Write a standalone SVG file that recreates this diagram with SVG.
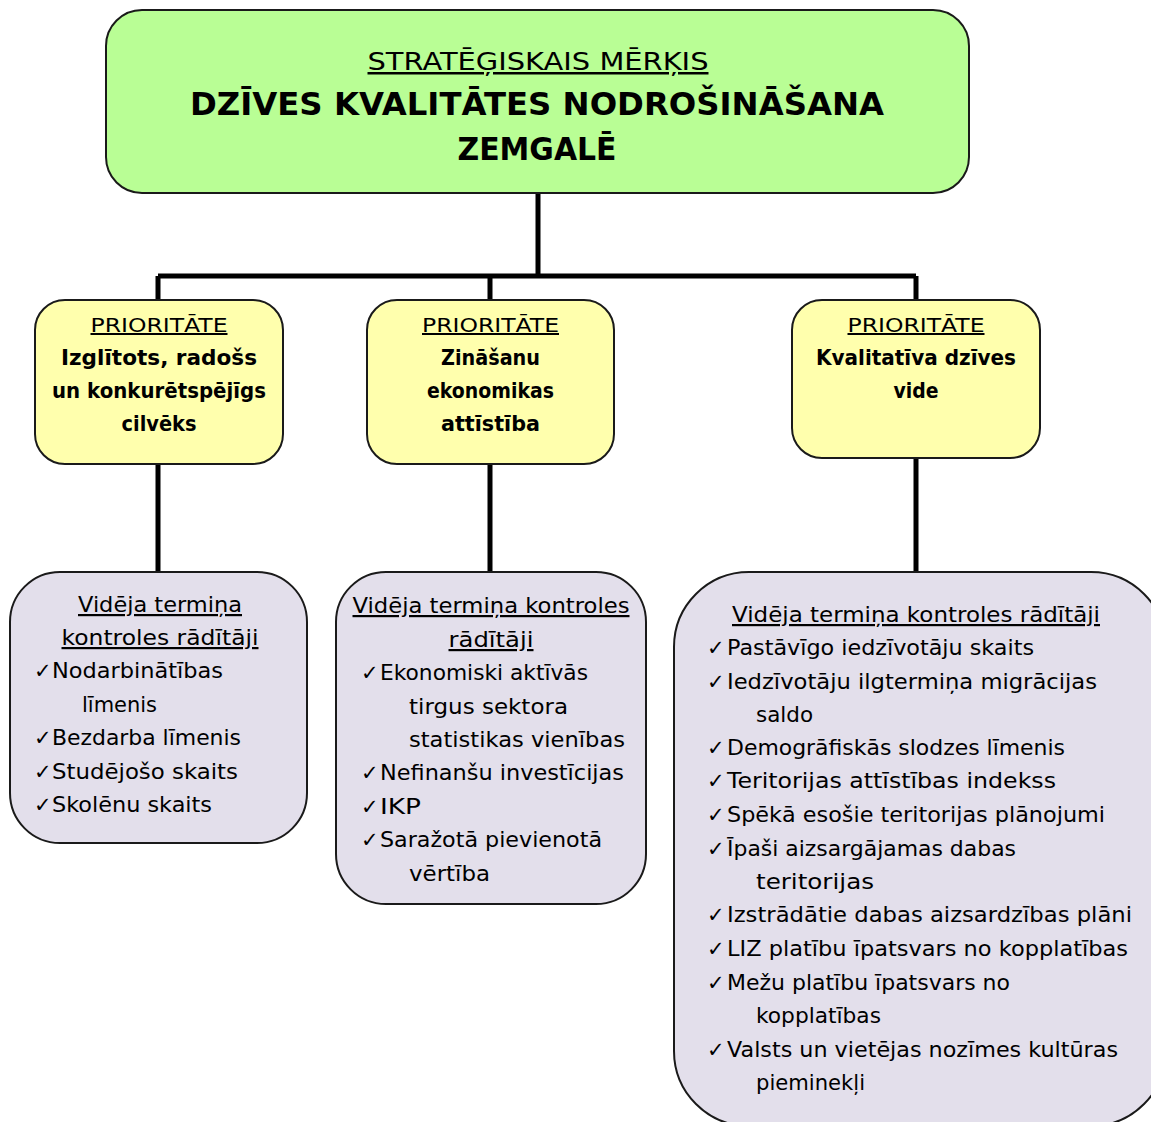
<svg xmlns="http://www.w3.org/2000/svg" width="1151" height="1122" viewBox="0 0 1151 1122">
<style>
text{font-family:"DejaVu Sans","Liberation Sans",sans-serif;fill:#000;}
.box{stroke:#1a1a1a;stroke-width:2;}
.goal{fill:#b9fe95;}
.prio{fill:#ffffad;}
.ind{fill:#e3dfeb;}
.conn{stroke:#000;stroke-width:5;fill:none;}
.c{text-anchor:middle;}
.u{text-decoration:underline;}
.t1{font-size:25px;}
.t2{font-size:32px;font-weight:bold;}
.p1{font-size:20px;}
.p2{font-size:22px;font-weight:bold;}
.i{font-size:22px;}
.ck{font-size:21px;}
</style>
<g id="connectors">
<path class="conn" d="M538 193V276M158 276H916M158 276V300M490 276V300M916 276V300M158 464V572M490 464V572M916 458V572"/>
</g>
<g id="goal">
<rect class="box goal" x="106" y="10" width="863" height="183" rx="36"/>
<text class="c t1 u" x="538" y="70" textLength="341" lengthAdjust="spacingAndGlyphs">STRATĒĢISKAIS MĒRĶIS</text>
<text class="c t2" x="537" y="115" textLength="694" lengthAdjust="spacingAndGlyphs">DZĪVES KVALITĀTES NODROŠINĀŠANA</text>
<text class="c t2" x="537" y="160" textLength="159" lengthAdjust="spacingAndGlyphs">ZEMGALĒ</text>
</g>
<g id="prio1">
<rect class="box prio" x="35" y="300" width="248" height="164" rx="30"/>
<text class="c p1 u" x="159" y="332" textLength="137" lengthAdjust="spacingAndGlyphs">PRIORITĀTE</text>
<text class="c p2" x="159" y="365" textLength="196" lengthAdjust="spacingAndGlyphs">Izglītots, radošs</text>
<text class="c p2" x="159" y="398" textLength="214" lengthAdjust="spacingAndGlyphs">un konkurētspējīgs</text>
<text class="c p2" x="159" y="431" textLength="75" lengthAdjust="spacingAndGlyphs">cilvēks</text>
</g>
<g id="prio2">
<rect class="box prio" x="367" y="300" width="247" height="164" rx="30"/>
<text class="c p1 u" x="490.5" y="332" textLength="137" lengthAdjust="spacingAndGlyphs">PRIORITĀTE</text>
<text class="c p2" x="490.5" y="365" textLength="99" lengthAdjust="spacingAndGlyphs">Zināšanu</text>
<text class="c p2" x="490.5" y="398" textLength="127" lengthAdjust="spacingAndGlyphs">ekonomikas</text>
<text class="c p2" x="490.5" y="431" textLength="99" lengthAdjust="spacingAndGlyphs">attīstība</text>
</g>
<g id="prio3">
<rect class="box prio" x="792" y="300" width="248" height="158" rx="30"/>
<text class="c p1 u" x="916" y="332" textLength="137" lengthAdjust="spacingAndGlyphs">PRIORITĀTE</text>
<text class="c p2" x="916" y="365" textLength="200" lengthAdjust="spacingAndGlyphs">Kvalitatīva dzīves</text>
<text class="c p2" x="916" y="398" textLength="45" lengthAdjust="spacingAndGlyphs">vide</text>
</g>
<g id="ind1">
<rect class="box ind" x="10" y="572" width="297" height="271" rx="50"/>
<text class="c i u" x="160" y="612" textLength="164" lengthAdjust="spacingAndGlyphs">Vidēja termiņa</text>
<text class="c i u" x="160" y="645" textLength="197" lengthAdjust="spacingAndGlyphs">kontroles rādītāji</text>
<text class="ck" x="34" y="678">✓</text><text class="i" x="52" y="678" textLength="171" lengthAdjust="spacingAndGlyphs">Nodarbinātības</text>
<text class="i" x="82" y="712" textLength="75" lengthAdjust="spacingAndGlyphs">līmenis</text>
<text class="ck" x="34" y="745">✓</text><text class="i" x="52" y="745" textLength="189" lengthAdjust="spacingAndGlyphs">Bezdarba līmenis</text>
<text class="ck" x="34" y="779">✓</text><text class="i" x="52" y="779" textLength="186" lengthAdjust="spacingAndGlyphs">Studējošo skaits</text>
<text class="ck" x="34" y="812">✓</text><text class="i" x="52" y="812" textLength="160" lengthAdjust="spacingAndGlyphs">Skolēnu skaits</text>
</g>
<g id="ind2">
<rect class="box ind" x="336" y="572" width="310" height="332" rx="50"/>
<text class="c i u" x="491" y="613" textLength="277" lengthAdjust="spacingAndGlyphs">Vidēja termiņa kontroles</text>
<text class="c i u" x="491" y="647" textLength="85" lengthAdjust="spacingAndGlyphs">rādītāji</text>
<text class="ck" x="361" y="680">✓</text><text class="i" x="380" y="680" textLength="208" lengthAdjust="spacingAndGlyphs">Ekonomiski aktīvās</text>
<text class="i" x="409" y="714" textLength="159" lengthAdjust="spacingAndGlyphs">tirgus sektora</text>
<text class="i" x="409" y="747" textLength="216" lengthAdjust="spacingAndGlyphs">statistikas vienības</text>
<text class="ck" x="361" y="780">✓</text><text class="i" x="380" y="780" textLength="244" lengthAdjust="spacingAndGlyphs">Nefinanšu investīcijas</text>
<text class="ck" x="361" y="814">✓</text><text class="i" x="380" y="814" textLength="41" lengthAdjust="spacingAndGlyphs">IKP</text>
<text class="ck" x="361" y="847">✓</text><text class="i" x="380" y="847" textLength="222" lengthAdjust="spacingAndGlyphs">Saražotā pievienotā</text>
<text class="i" x="409" y="881" textLength="81" lengthAdjust="spacingAndGlyphs">vērtība</text>
</g>
<g id="ind3">
<rect class="box ind" x="674" y="572" width="492" height="554" rx="75"/>
<text class="c i u" x="916" y="622" textLength="368" lengthAdjust="spacingAndGlyphs">Vidēja termiņa kontroles rādītāji</text>
<text class="ck" x="707" y="655">✓</text><text class="i" x="727" y="655" textLength="307" lengthAdjust="spacingAndGlyphs">Pastāvīgo iedzīvotāju skaits</text>
<text class="ck" x="707" y="689">✓</text><text class="i" x="727" y="689" textLength="370" lengthAdjust="spacingAndGlyphs">Iedzīvotāju ilgtermiņa migrācijas</text>
<text class="i" x="756" y="722" textLength="57" lengthAdjust="spacingAndGlyphs">saldo</text>
<text class="ck" x="707" y="755">✓</text><text class="i" x="727" y="755" textLength="338" lengthAdjust="spacingAndGlyphs">Demogrāfiskās slodzes līmenis</text>
<text class="ck" x="707" y="788">✓</text><text class="i" x="727" y="788" textLength="329" lengthAdjust="spacingAndGlyphs">Teritorijas attīstības indekss</text>
<text class="ck" x="707" y="822">✓</text><text class="i" x="727" y="822" textLength="378" lengthAdjust="spacingAndGlyphs">Spēkā esošie teritorijas plānojumi</text>
<text class="ck" x="707" y="856">✓</text><text class="i" x="727" y="856" textLength="289" lengthAdjust="spacingAndGlyphs">Īpaši aizsargājamas dabas</text>
<text class="i" x="756" y="889" textLength="118" lengthAdjust="spacingAndGlyphs">teritorijas</text>
<text class="ck" x="707" y="922">✓</text><text class="i" x="727" y="922" textLength="405" lengthAdjust="spacingAndGlyphs">Izstrādātie dabas aizsardzības plāni</text>
<text class="ck" x="707" y="956">✓</text><text class="i" x="727" y="956" textLength="401" lengthAdjust="spacingAndGlyphs">LIZ platību īpatsvars no kopplatības</text>
<text class="ck" x="707" y="990">✓</text><text class="i" x="727" y="990" textLength="283" lengthAdjust="spacingAndGlyphs">Mežu platību īpatsvars no</text>
<text class="i" x="756" y="1023" textLength="125" lengthAdjust="spacingAndGlyphs">kopplatības</text>
<text class="ck" x="707" y="1057">✓</text><text class="i" x="727" y="1057" textLength="391" lengthAdjust="spacingAndGlyphs">Valsts un vietējas nozīmes kultūras</text>
<text class="i" x="756" y="1090" textLength="109" lengthAdjust="spacingAndGlyphs">pieminekļi</text>
</g>
</svg>
